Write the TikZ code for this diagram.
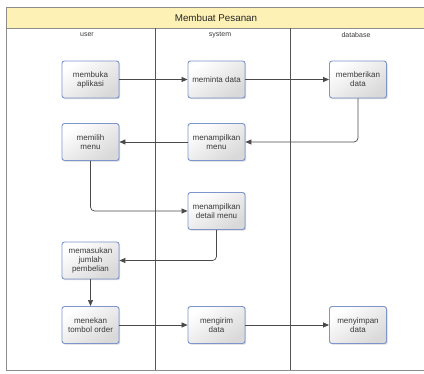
\documentclass[tikz,border=0pt]{standalone}
\usepackage{fontspec}
\setmainfont{Liberation Sans}
\usetikzlibrary{arrows.meta,shadows}
\definecolor{framegray}{HTML}{8C8C8C}
\definecolor{lanegray}{HTML}{555555}
\definecolor{titlefill}{HTML}{FDF1B6}
\definecolor{boxedge}{HTML}{7D94CC}
\definecolor{txt}{HTML}{3A3A3A}
\definecolor{wire}{HTML}{4A4A4A}
\tikzset{
  actbox/.style={draw=boxedge, line width=0.9pt, rounded corners=2.5pt,
    minimum width=57pt, minimum height=37pt, inner sep=1pt, align=center,
    top color=white, bottom color=black!15, shading angle=35,
    text=txt, font=\fontsize{8}{9}\selectfont,
    drop shadow={shadow xshift=1.2pt, shadow yshift=-1.2pt, opacity=0.25, fill=black!60}},
  flow/.style={draw=wire, line width=0.7pt, rounded corners=4pt,
    -{Triangle[length=6pt,width=5pt]}},
  lanelabel/.style={text=txt, font=\fontsize{7}{8}\selectfont, inner sep=0pt},
}
\begin{document}
\begin{tikzpicture}[x=1pt,y=-1pt]
  \useasboundingbox (0,0) rectangle (424,374);
  \clip (0,0) rectangle (424,374);
  % swimlane frame with title band
  \fill[white] (0,0) rectangle (424,374);
  \draw[framegray, line width=0.9pt, fill=titlefill] (6.5,7) rectangle (428,28);
  \draw[framegray, line width=0.9pt] (6.5,28) rectangle (428,370.5);
  \draw[lanegray, line width=0.8pt] (155,28) -- (155,370.5);
  \draw[lanegray, line width=0.8pt] (290,28) -- (290,370.5);
  \node[text=black!85, font=\fontsize{9.8}{11}\selectfont, inner sep=0pt] (title) at (216,17.5) {Membuat Pesanan};
  \node[lanelabel] (luser) at (87,35) {user};
  \node[lanelabel] (lsystem) at (220,35) {system};
  \node[lanelabel] (ldb) at (356,35) {database};

  % activities
  \node[actbox] (membuka)    at (90.5,79.5)  {membuka\\aplikasi};
  \node[actbox] (meminta)    at (216.5,79.5) {meminta data};
  \node[actbox] (memberikan) at (358,79.5)   {memberikan\\data};
  \node[actbox] (memilih)    at (90.5,142)   {memilih\\menu};
  \node[actbox] (tampilmenu) at (216.5,142)  {menampilkan\\menu};
  \node[actbox] (detail)     at (216.5,211)  {menampilkan\\detail menu};
  \node[actbox] (masukan)    at (90.5,260.5) {memasukan\\jumlah\\pembelian};
  \node[actbox] (menekan)    at (90.5,325)   {menekan\\tombol order};
  \node[actbox] (mengirim)   at (216.5,325)  {mengirim\\data};
  \node[actbox] (menyimpan)  at (358,325)    {menyimpan\\data};

  % control flow
  \draw[flow] (membuka) -- (meminta);
  \draw[flow] (meminta) -- (memberikan);
  \draw[flow] (memberikan.south) |- (tampilmenu.east);
  \draw[flow] (tampilmenu) -- (memilih);
  \draw[flow] (memilih.south) |- (detail.west);
  \draw[flow] (detail.south) |- (masukan.east);
  \draw[flow] (masukan) -- (menekan);
  \draw[flow] (menekan) -- (mengirim);
  \draw[flow] (mengirim) -- (menyimpan);
\end{tikzpicture}
\end{document}
